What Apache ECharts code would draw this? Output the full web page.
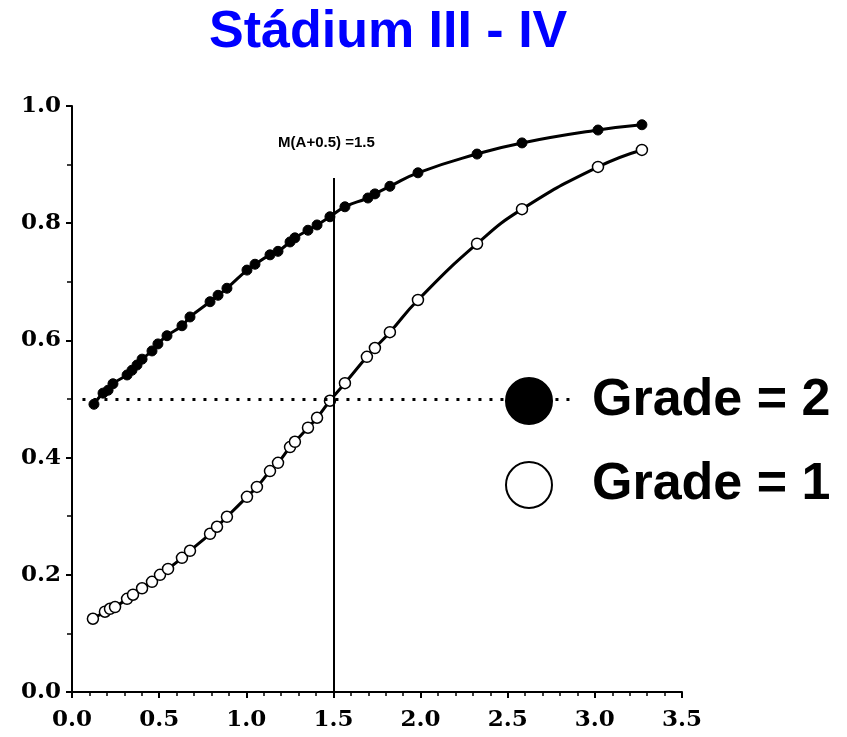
<!DOCTYPE html>
<html>
<head>
<meta charset="utf-8">
<script src="https://cdn.jsdelivr.net/npm/echarts@6/dist/echarts.min.js"></script>
<style>
  html, body { margin: 0; padding: 0; background: #fff; }
  #main { width: 847px; height: 737px; }
</style>
</head>
<body>
<div id="main"></div>
<script>
// Grade = 2 (filled points)
let gradeTwoX = [0.126, 0.178, 0.207, 0.235, 0.316, 0.344, 0.373, 0.402, 0.459, 0.493, 0.545, 0.631, 0.677,
                 0.792, 0.838, 0.889, 1.004, 1.050, 1.136, 1.182, 1.251, 1.279, 1.354, 1.406, 1.480, 1.566,
                 1.698, 1.738, 1.824, 1.985, 2.324, 2.582, 3.018, 3.270];
let gradeTwoY = [0.491, 0.510, 0.515, 0.526, 0.541, 0.549, 0.558, 0.568, 0.582, 0.594, 0.608, 0.625, 0.640,
                 0.666, 0.677, 0.689, 0.720, 0.730, 0.746, 0.752, 0.768, 0.775, 0.788, 0.797, 0.811, 0.828,
                 0.843, 0.850, 0.863, 0.886, 0.918, 0.937, 0.959, 0.968];
// Grade = 1 (open points)
let gradeOneX = [0.120, 0.189, 0.218, 0.247, 0.316, 0.350, 0.402, 0.459, 0.505, 0.551, 0.631, 0.677, 0.792,
                 0.832, 0.889, 1.004, 1.061, 1.136, 1.182, 1.251, 1.279, 1.354, 1.406, 1.480, 1.566, 1.692,
                 1.738, 1.824, 1.985, 2.324, 2.582, 3.018, 3.270];
let gradeOneY = [0.125, 0.137, 0.142, 0.145, 0.159, 0.166, 0.177, 0.188, 0.200, 0.210, 0.229, 0.241, 0.270,
                 0.282, 0.299, 0.333, 0.350, 0.377, 0.391, 0.418, 0.427, 0.451, 0.468, 0.497, 0.527, 0.572,
                 0.587, 0.614, 0.669, 0.765, 0.824, 0.896, 0.925];

let seriesNames = ["Grade = 2", "Grade = 1"];
let medianX = 1.5;        // M(A+0.5)
let medianLineTop = 0.877;
let halfLevel = 0.5;
let halfLineFrom = 0.06;
let halfLineTo = 2.886;

function pairs(xs, ys){
    let out = [];
    xs.forEach((x, i) => { out.push([x, ys[i]]); });
    return out;
}

var myChart = echarts.init(document.getElementById('main'));
let labelFont = {
    color: "#000",
    fontFamily: "DejaVu Serif",
    fontWeight: "bold",
    fontSize: 23
};
myChart.setOption({
    animation: false,
    title: {
        text: "Stádium III - IV",
        left: 204,
        top: 2,
        textStyle: {
            color: "#0000ff",
            fontFamily: "Liberation Sans",
            fontWeight: "bold",
            fontSize: 52
        }
    },
    legend: {
        data: seriesNames,
        orient: "vertical",
        left: 500,
        top: 370,
        icon: "circle",
        itemWidth: 116,
        itemHeight: 46,
        itemGap: 32,
        textStyle: {
            color: "#000",
            fontFamily: "Liberation Sans",
            fontWeight: "bold",
            fontSize: 52,
            padding: [0, 0, 10, 0]
        }
    },
    grid: { left: 72, right: 165, top: 106, bottom: 45 },
    xAxis: {
        type: "value",
        min: 0,
        max: 3.5,
        interval: 0.5,
        splitLine: { show: false },
        axisLine: { onZero: false, lineStyle: { color: "#000", width: 2 } },
        axisTick: { length: 6, lineStyle: { color: "#000", width: 2 } },
        minorTick: { show: true, splitNumber: 5, length: 4, lineStyle: { color: "#000", width: 1.5 } },
        axisLabel: Object.assign({ margin: 17, formatter: v => v.toFixed(1) }, labelFont)
    },
    yAxis: {
        type: "value",
        min: 0,
        max: 1,
        interval: 0.2,
        splitLine: { show: false },
        axisLine: { onZero: false, lineStyle: { color: "#000", width: 2 } },
        axisTick: { length: 6, lineStyle: { color: "#000", width: 2 } },
        minorTick: { show: true, splitNumber: 2, length: 5, lineStyle: { color: "#000", width: 1.5 } },
        axisLabel: Object.assign({ margin: 11, formatter: v => v.toFixed(1) }, labelFont)
    },
    series: [
        {
            name: seriesNames[0],
            type: "line",
            data: pairs(gradeTwoX, gradeTwoY),
            smooth: 0.5,
            symbol: "circle",
            symbolSize: 10,
            z: 3,
            lineStyle: { color: "#000", width: 3 },
            itemStyle: { color: "#000", borderColor: "#000", borderWidth: 1 },
            markLine: {
                silent: true,
                symbol: "none",
                animation: false,
                data: [
                    [
                        { coord: [medianX, 0], lineStyle: { type: "solid", width: 2, color: "#000" },
                          label: {
                              show: true,
                              position: "end",
                              distance: 28,
                              formatter: "M(A+0.5) =1.5",
                              color: "#000",
                              fontFamily: "Liberation Sans",
                              fontWeight: "bold",
                              fontSize: 15,
                              padding: [0, 14, 0, 0]
                          } },
                        { coord: [medianX, medianLineTop] }
                    ],
                    [
                        { coord: [halfLineFrom, halfLevel], lineStyle: { type: [3, 8], width: 3, color: "#000" },
                          label: { show: false } },
                        { coord: [halfLineTo, halfLevel] }
                    ]
                ]
            }
        },
        {
            name: seriesNames[1],
            type: "line",
            data: pairs(gradeOneX, gradeOneY),
            smooth: 0.5,
            symbol: "circle",
            symbolSize: 11,
            z: 4,
            lineStyle: { color: "#000", width: 3 },
            itemStyle: { color: "#fff", borderColor: "#000", borderWidth: 1.5 }
        }
    ]
});
</script>
</body>
</html>
